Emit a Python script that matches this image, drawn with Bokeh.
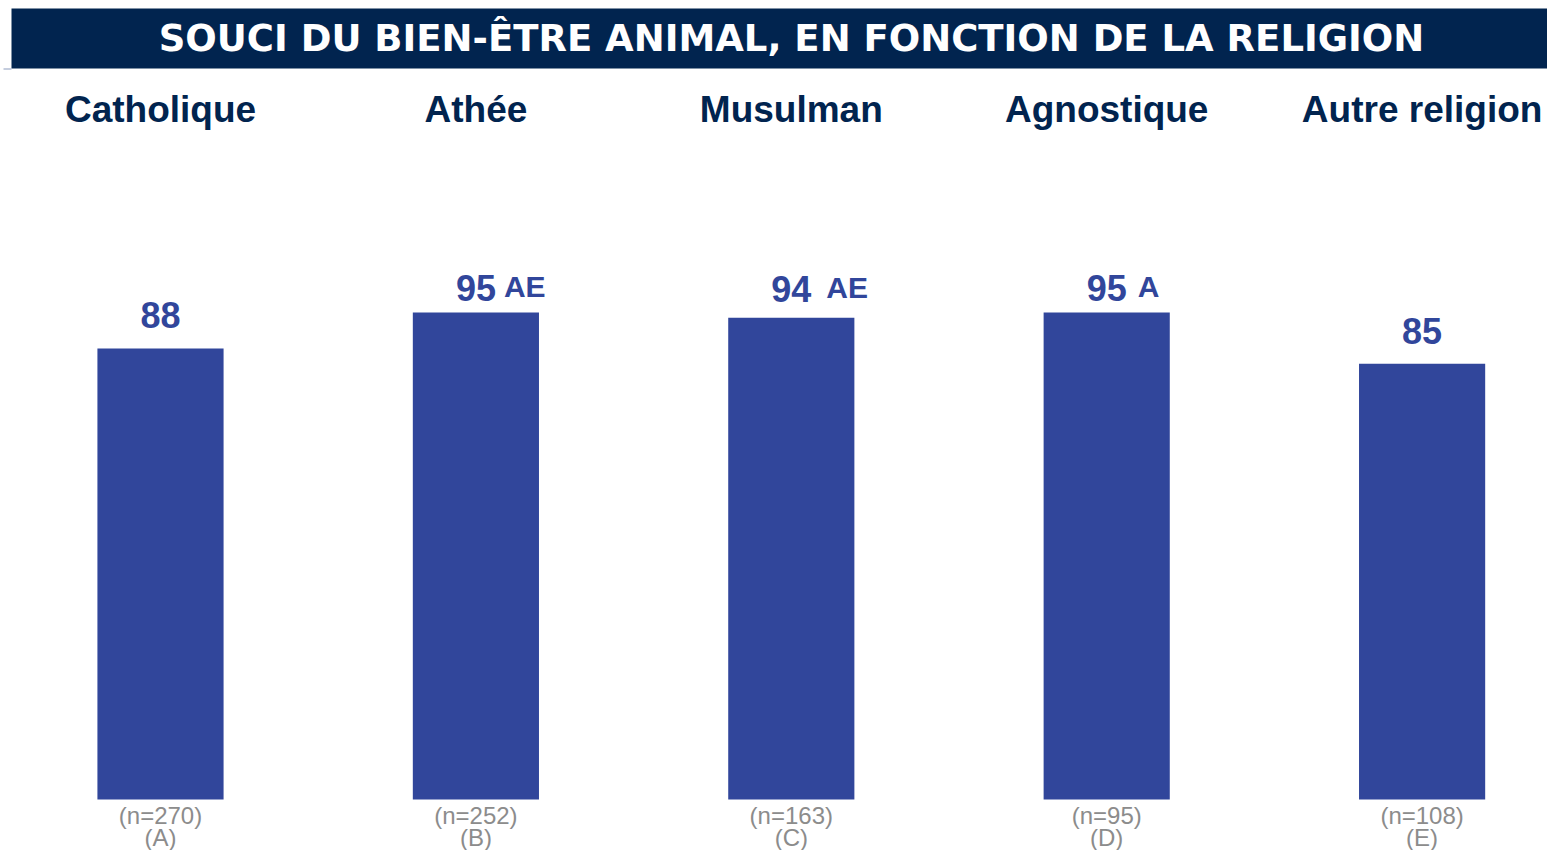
from bokeh.plotting import figure
from bokeh.models import BoxAnnotation, Range1d
from bokeh.core.properties import value
from bokeh.embed import file_html
from bokeh.resources import INLINE

title = "SOUCI DU BIEN-ÊTRE ANIMAL, EN FONCTION DE LA RELIGION"
categories = ["Catholique", "Athée", "Musulman", "Agnostique", "Autre religion"]
values = [88, 95, 94, 95, 85]
sig_letters = ["", "AE", "AE", "A", ""]
sample_sizes = ["(n=270)", "(n=252)", "(n=163)", "(n=95)", "(n=108)"]
group_codes = ["(A)", "(B)", "(C)", "(D)", "(E)"]

W, H = 1547, 850
SPACING = 315.4      # px between bar centres
X0 = 160             # px of first bar centre
PX_PER_UNIT = 5.126  # px per value unit
BASE = 799           # px (from top) of value 0

def X(px):  # px -> data x
    return (px - X0) / SPACING

def Y(py):  # px from top -> data y
    return (BASE - py) / PX_PER_UNIT

p = figure(width=W, height=H, output_backend="svg", toolbar_location=None,
           x_range=Range1d(X(0), X(W)), y_range=Range1d(Y(H), Y(0)),
           min_border=0, outline_line_color=None)
p.axis.visible = False
p.grid.visible = False
p.background_fill_color = "white"
p.border_fill_color = "white"

NAVY = "#01244f"
BAR = "#31469b"
GRAY = "#8c8c8c"
FONT = value("Liberation Sans")

# banner
p.add_layout(BoxAnnotation(left=X(11), right=X(1600), top=Y(8), bottom=Y(68),
                           fill_color=NAVY, fill_alpha=1, line_alpha=0, level="underlay"))
p.segment(x0=[X(3)], y0=[Y(68.5)], x1=[X(11)], y1=[Y(68.5)], line_color="#8a9bbd", line_width=1)
p.text(x=[X(791)], y=[Y(38)], text=[title], text_color="white", text_font=value("DejaVu Sans"),
       text_font_style="bold", text_font_size="37px", text_align="center",
       text_baseline="middle")

xs = list(range(len(categories)))

# bars
p.vbar(x=xs, top=values, bottom=0, width=0.4, fill_color=BAR, line_color=None)

# category headers
p.text(x=xs, y=[Y(109)] * len(xs), text=categories, text_color=NAVY, text_font=FONT,
       text_font_style="bold", text_font_size="37px", text_align="center",
       text_baseline="middle")

# value labels
y_offs = [33, 25, 29, 25, 33]
x_offs = [0, 28, 35, 31, 0]
for i, (v, s) in enumerate(zip(values, sig_letters)):
    p.text(x=[i], y=[v], text=[str(v)], text_color=BAR, text_font=FONT,
           text_font_style="bold", text_font_size="36px", text_align="center",
           text_baseline="middle", y_offset=-y_offs[i])
    if s:
        p.text(x=[i], y=[v], text=[s], text_color=BAR, text_font=FONT,
               text_font_style="bold", text_font_size="30px", text_align="left",
               text_baseline="middle", x_offset=x_offs[i], y_offset=-y_offs[i] - 1)

# sample sizes and group codes
p.text(x=xs, y=[Y(815)] * len(xs), text=sample_sizes, text_color=GRAY, text_font=FONT,
       text_font_size="24px", text_align="center", text_baseline="middle")
p.text(x=xs, y=[Y(837)] * len(xs), text=group_codes, text_color=GRAY, text_font=FONT,
       text_font_size="24px", text_align="center", text_baseline="middle")

open("out.html", "w").write(file_html(p, INLINE))
